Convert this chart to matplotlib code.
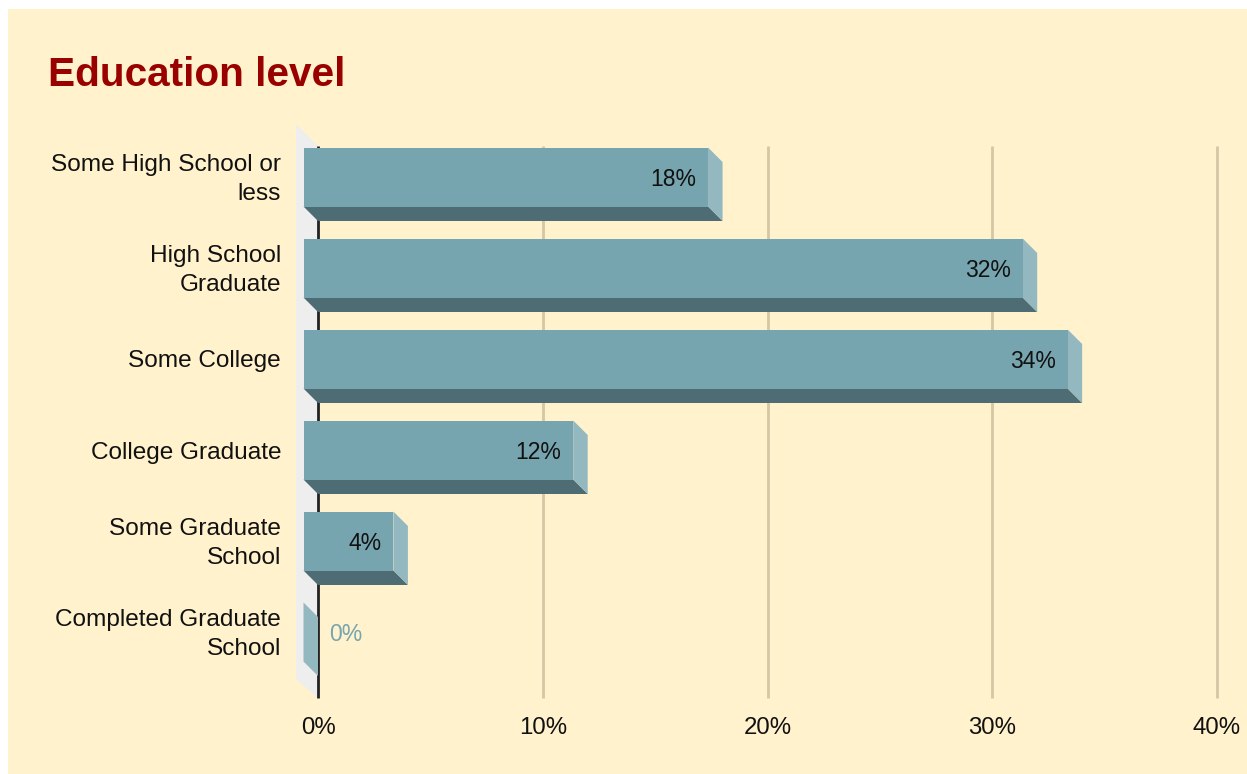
import matplotlib
matplotlib.use("Agg")
import matplotlib.pyplot as plt
from matplotlib.patches import Polygon, Rectangle

categories = ["Some High School or\nless", "High School\nGraduate", "Some College",
              "College Graduate", "Some Graduate\nSchool", "Completed Graduate\nSchool"]
values = [18, 32, 34, 12, 4, 0]
value_labels = ["18%", "32%", "34%", "12%", "4%", "0%"]
xticks = [0, 10, 20, 30, 40]
xtick_labels = ["0%", "10%", "20%", "30%", "40%"]
title = "Education level"

W, H = 1247, 774
plt.rcParams['font.family'] = ['Liberation Sans', 'DejaVu Sans']

fig = plt.figure(figsize=(W / 100, H / 100), dpi=100, facecolor="white")
fig.patches.append(Rectangle((8 / W, 0), 1 - 8 / W, 1 - 9 / H, transform=fig.transFigure,
                             facecolor="#FFF2CC", edgecolor="none", zorder=-10))

# plot area in pixels
x0, x1 = 318, 1217
ytop, ybot = 146, 698
pitch = 91
n = len(categories)
ax = fig.add_axes([x0 / W, 1 - ybot / H, (x1 - x0) / W, (ybot - ytop) / H])
ax.set_xlim(0, 40)
ybottom_lim = -0.5 + (ybot - ytop) / pitch
ax.set_ylim(ybottom_lim, -0.5)
ax.patch.set_alpha(0)
for s in ax.spines.values():
    s.set_visible(False)
ax.set_xticks([])
ax.set_yticks([])

px_x = 40 / (x1 - x0)
px_y = 1 / pitch

# back wall
wd = 22
wall = Polygon([(-wd * px_x, -0.5 - wd * px_y), (0, -0.5), (0, ybottom_lim),
                (-wd * px_x, ybottom_lim - 19 * px_y)], closed=True,
               facecolor="#EEEEEE", edgecolor="none", clip_on=False, zorder=1)
ax.add_patch(wall)

# gridlines
for t in xticks[1:]:
    ax.plot([t, t], [-0.5, ybottom_lim], color="#D3C7A6", lw=2, zorder=2, clip_on=False,
            solid_capstyle="butt")
ax.plot([0, 0], [-0.5, ybottom_lim], color="#222222", lw=2, zorder=3, clip_on=False,
        solid_capstyle="butt")

# bars
dx = 14.5 * px_x
dy = 14.5 * px_y
hh = 59 / pitch / 2
front_c = "#76A5AF"
bottom_c = "#4E6C73"
side_c = "#93B8BF"
text_shift = 2.5 * px_y
for i, v in enumerate(values):
    top, bot = i - hh, i + hh
    # bottom face
    ax.add_patch(Polygon([(-dx, bot - dy), (v - dx, bot - dy), (v, bot), (0, bot)],
                         closed=True, facecolor=bottom_c, edgecolor="none",
                         clip_on=False, zorder=4))
    # side face
    ax.add_patch(Polygon([(v - dx, top - dy), (v, top), (v, bot), (v - dx, bot - dy)],
                         closed=True, facecolor=side_c, edgecolor="none",
                         clip_on=False, zorder=4))
    # front face
    if v > 0:
        ax.add_patch(Polygon([(-dx, top - dy), (v - dx, top - dy), (v - dx, bot - dy),
                              (-dx, bot - dy)], closed=True, facecolor=front_c,
                             edgecolor="none", clip_on=False, zorder=5))
    yc = i - dy + text_shift
    if v > 2:
        ax.text(v - dx - 12 * px_x, yc, value_labels[i], ha="right", va="center",
                fontsize=16.5, color="#111111", zorder=7)
    else:
        ax.text(v + 11 * px_x, yc, value_labels[i], ha="left", va="center",
                fontsize=16.5, color=front_c, zorder=7)
    ax.text(-37 * px_x, yc, categories[i], ha="right", va="center",
            fontsize=17.6, color="#111111", linespacing=1.4)

for t, lab in zip(xticks, xtick_labels):
    ax.text(t, (728 - ytop) * px_y - 0.5, lab, ha="center", va="center",
            fontsize=17.3, color="#111111", clip_on=False)

fig.text(48 / W, 1 - 86 / H, title, ha="left", va="baseline", fontsize=29.2,
         fontweight="bold", color="#990000")

fig.savefig("out.png", dpi=100, facecolor="white")
